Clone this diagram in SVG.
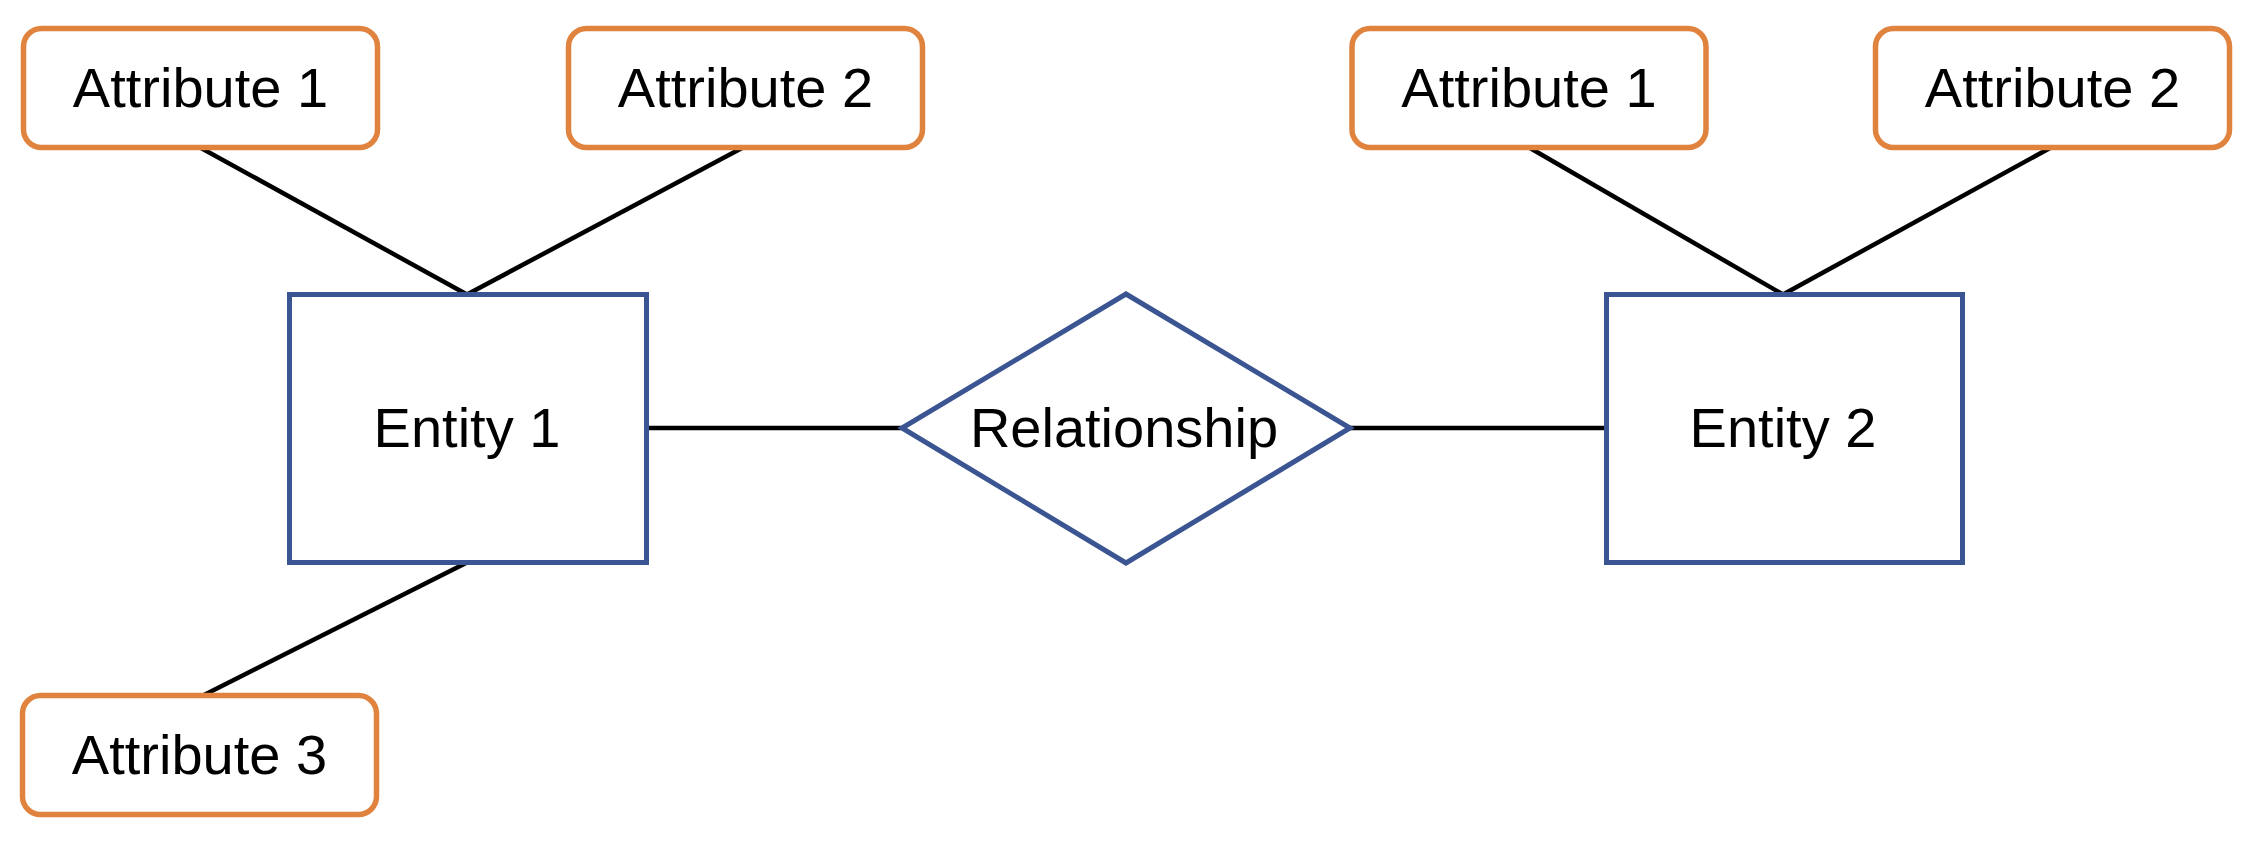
<svg xmlns="http://www.w3.org/2000/svg" width="2252" height="844" viewBox="0 0 2252 844">
<style>
.attr{fill:#ffffff;stroke:#E0833F;stroke-width:5.5}
.ent{fill:#ffffff;stroke:#3A5591;stroke-width:5}
.lbl{font-family:"Liberation Sans",Arial,sans-serif;font-size:56px;fill:#000000;text-anchor:middle}
.conn line{stroke:#000000;stroke-width:4.5;stroke-linecap:butt}
</style>
<rect x="0" y="0" width="2252" height="844" fill="#ffffff"/>
<g id="connectors" class="conn">
<line x1="201" y1="148" x2="467" y2="294.5"/>
<line x1="742" y1="148" x2="467" y2="294.5"/>
<line x1="467" y1="562.5" x2="203" y2="695.5"/>
<line x1="646.5" y1="428" x2="902" y2="428"/>
<line x1="1350" y1="428" x2="1606.5" y2="428"/>
<line x1="1530" y1="148" x2="1783" y2="294.5"/>
<line x1="2050" y1="148" x2="1783" y2="294.5"/>
</g>
<g id="e1-attr1"><rect class="attr" x="23.5" y="28.5" width="354" height="119" rx="18"/><text class="lbl" x="200.5" y="107">Attribute 1</text></g>
<g id="e1-attr2"><rect class="attr" x="568.5" y="28.5" width="354" height="119" rx="18"/><text class="lbl" x="745.5" y="107">Attribute 2</text></g>
<g id="e1-attr3"><rect class="attr" x="22.5" y="695.5" width="354" height="119" rx="18"/><text class="lbl" x="199.5" y="774">Attribute 3</text></g>
<g id="e2-attr1"><rect class="attr" x="1352" y="28.5" width="354" height="119" rx="18"/><text class="lbl" x="1529" y="107">Attribute 1</text></g>
<g id="e2-attr2"><rect class="attr" x="1875.5" y="28.5" width="354" height="119" rx="18"/><text class="lbl" x="2052.5" y="107">Attribute 2</text></g>
<g id="entity1"><rect class="ent" x="289.5" y="294.5" width="357" height="268"/><text class="lbl" x="467" y="447">Entity 1</text></g>
<g id="relationship"><polygon class="ent" points="1126,294 1350,428 1126,563 902,428"/><text class="lbl" x="1124" y="447">Relationship</text></g>
<g id="entity2"><rect class="ent" x="1606.5" y="294.5" width="356" height="268"/><text class="lbl" x="1783" y="447">Entity 2</text></g>
</svg>
